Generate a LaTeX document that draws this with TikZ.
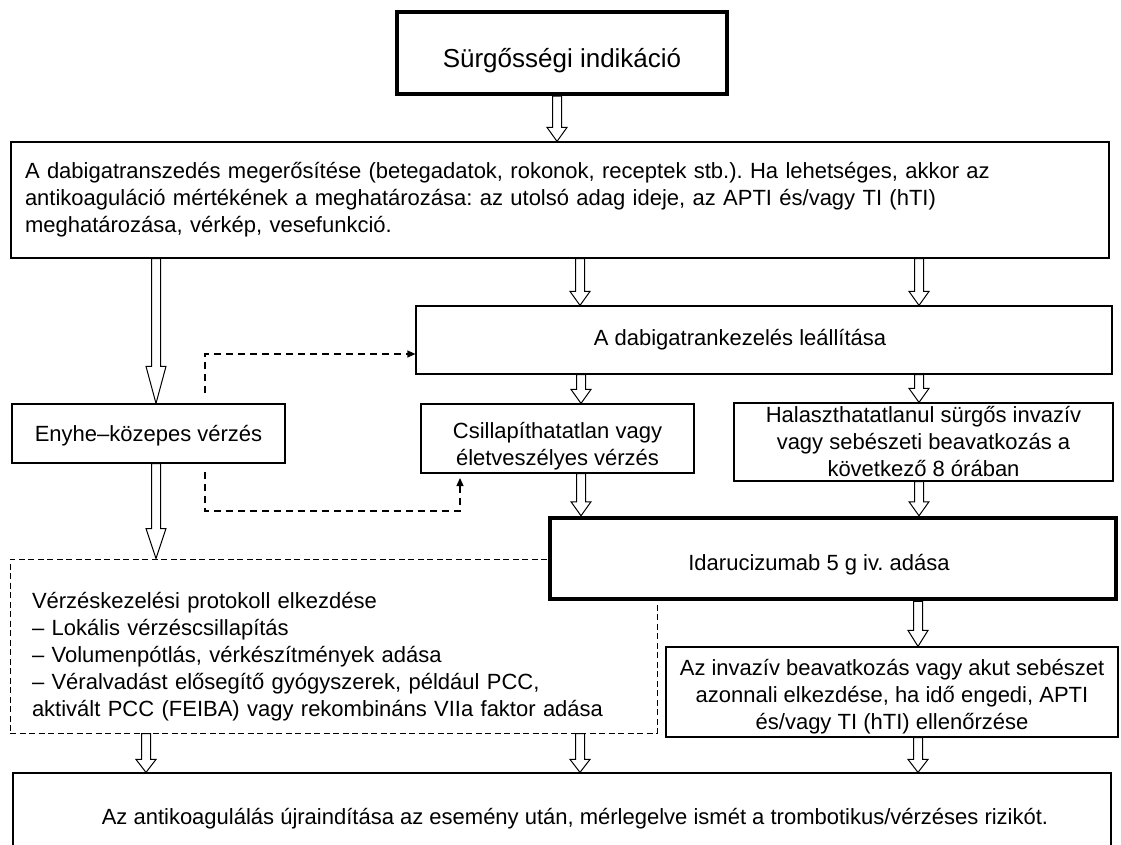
\documentclass[tikz,border=0pt]{standalone}
\usepackage{fontspec}
\setmainfont{Liberation Sans}
\usetikzlibrary{arrows.meta,calc}
\pgfdeclarelayer{bg}
\pgfsetlayers{bg,main}
\frenchspacing
\newcommand\lift[1]{\rule{0pt}{#1pt}}
\tikzset{
  x=1pt, y=-1pt,
  every node/.style={font=\fontsize{22}{27}\selectfont},
  box/.style={draw, line width=1.2pt, fill=white, inner sep=0pt, align=center},
  thickbox/.style={box, line width=4.5pt},
  dashbox/.style={box, dash pattern=on 6pt off 3.5pt, line width=1pt},
  harrow/.style={draw, line width=1pt, fill=white, line join=miter},
  dashconn/.style={draw, line width=1.2pt, dash pattern=on 7pt off 5pt, -{Triangle[length=8pt,width=7pt]}},
}
\newcommand\hollowarrow[4][14]{%
  \draw[harrow] let \p1=(#3.south -| #2,0), \p2=(#4.north -| #2,0) in
   (\x1-4.5pt,\y1) -- (\x1-4.5pt,\y2+#1pt) -- (\x1-10pt,\y2+#1pt) -- (\p2)
   -- (\x1+10pt,\y2+#1pt) -- (\x1+4.5pt,\y2+#1pt) -- (\x1+4.5pt,\y1) -- cycle;}
\begin{document}
\begin{tikzpicture}
\useasboundingbox (0,0) rectangle (1121,845);

\node[thickbox, minimum width=330pt, minimum height=82pt, font=\fontsize{26}{30}\selectfont] (top) at (562,53) {\lift{34}Sürgősségi indikáció};

\node[box, minimum width=1098pt, minimum height=116pt, text width=1070pt, align=left] (big) at (560,200)
 {A dabigatranszedés megerősítése (betegadatok, rokonok, receptek stb.). Ha lehetséges, akkor az\\
  antikoaguláció mértékének a meghatározása: az utolsó adag ideje, az APTI és/vagy TI (hTI)\\
  meghatározása, vérkép, vesefunkció.};

\node[box, minimum width=696pt, minimum height=68pt] (leall) at (764,340) {A dabigatrankezelés leállítása\hspace*{48pt}};

\node[box, minimum width=273pt, minimum height=59pt] (enyhe) at (148.5,433.5) {\lift{20}Enyhe–közepes vérzés};

\node[box, minimum width=273pt, minimum height=69pt] (csill) at (557.5,438.5) {\lift{31}Csillapíthatatlan vagy\\életveszélyes vérzés};

\node[box, minimum width=379pt, minimum height=78pt] (hala) at (923.5,442) {Halaszthatatlanul sürgős invazív\\vagy sebészeti beavatkozás a\\következő 8 órában};

\node[dashbox, minimum width=647pt, minimum height=174pt, text width=603pt, align=left] (prot) at (333.5,646)
 {\lift{37}Vérzéskezelési protokoll elkezdése\\
  – Lokális vérzéscsillapítás\\
  – Volumenpótlás, vérkészítmények adása\\
  – Véralvadást elősegítő gyógyszerek, például PCC,\\
  aktivált PCC (FEIBA) vagy rekombináns VIIa faktor adása};

\node[thickbox, minimum width=566pt, minimum height=81pt] (ida) at (833,558.5) {\lift{28}Idarucizumab 5 g iv. adása\hspace*{28pt}};

\node[box, minimum width=452pt, minimum height=90pt] (inv) at (892,692) {\lift{26}Az invazív beavatkozás vagy akut sebészet\\azonnali elkezdése, ha idő engedi, APTI\\és/vagy TI (hTI) ellenőrzése};

\node[box, minimum width=1098pt, minimum height=87pt] (end) at (562,816.5) {\hspace*{26pt}\lift{20}Az antikoagulálás újraindítása az esemény után, mérlegelve ismét a trombotikus/vérzéses rizikót.};

\begin{pgfonlayer}{bg}
\hollowarrow{557}{top}{big}
\hollowarrow[37]{156}{big}{enyhe}
\hollowarrow{580}{big}{leall}
\hollowarrow{919}{big}{leall}
\hollowarrow{581}{leall}{csill}
\hollowarrow{919}{leall}{hala}
\hollowarrow{581}{csill}{ida}
\hollowarrow{919}{hala}{ida}
\hollowarrow[30]{156}{enyhe}{prot}
\hollowarrow[16]{918}{ida}{inv}
\hollowarrow[13]{146}{prot}{end}
\hollowarrow[13]{580}{prot}{end}
\hollowarrow[13]{918}{inv}{end}
\end{pgfonlayer}

\coordinate (d1) at (205,393);
\coordinate (d2) at (205,472);
\coordinate (d3) at (460,478);
\draw[dashconn] (d1) |- (leall.west |- 0,354);
\draw[dashconn] (d2) -- (d2 |- 0,511) -| (d3);
\end{tikzpicture}
\end{document}
